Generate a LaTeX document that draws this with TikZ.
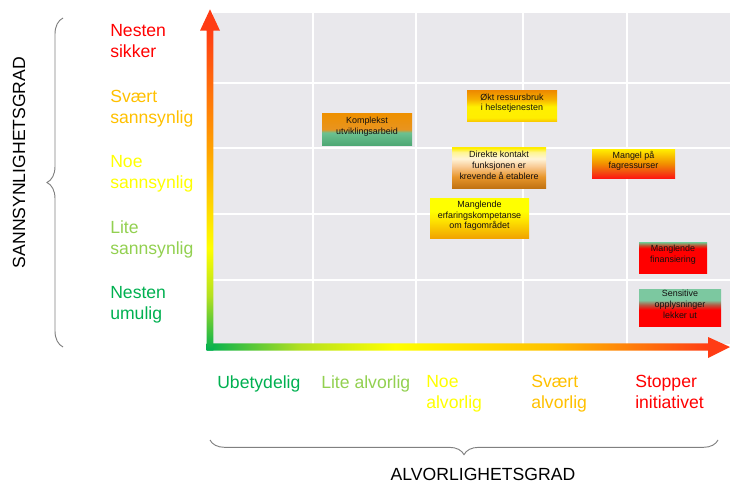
\documentclass[tikz,border=0pt]{standalone}
\usepackage{fontspec}
\setmainfont{Liberation Sans}
\usetikzlibrary{decorations.pathreplacing,fit}

% palette
\definecolor{bggrey}{HTML}{E9E8EC}
\definecolor{bracegrey}{HTML}{808080}
\definecolor{rgreen}{HTML}{00B050}
\definecolor{rlgreen}{HTML}{92D050}
\definecolor{ryellow}{HTML}{FFFF00}
\definecolor{rorange}{HTML}{FFC000}
\definecolor{rred}{HTML}{FF0000}
\definecolor{arrowred}{HTML}{FF3C14}
\definecolor{arroworange}{HTML}{FFA500}
\definecolor{arrowlime}{HTML}{B4E020}
\definecolor{boxtext}{HTML}{141010}

% axis arrow gradients (the path box spans 25bp..75bp)
\pgfdeclareverticalshading{vaxis}{100bp}{color(0bp)=(rgreen); color(25bp)=(rgreen); color(33bp)=(arrowlime); color(40bp)=(ryellow); color(54bp)=(arroworange); color(72bp)=(arrowred); color(100bp)=(arrowred)}
\pgfdeclarehorizontalshading{haxis}{100bp}{color(0bp)=(rgreen); color(25bp)=(rgreen); color(34bp)=(arrowlime); color(43bp)=(ryellow); color(58bp)=(rorange); color(73bp)=(arrowred); color(100bp)=(arrowred)}

% risk box gradients
\definecolor{kA}{HTML}{4CA673}\definecolor{kB}{HTML}{6CC190}\definecolor{kC}{HTML}{E89420}\definecolor{kD}{HTML}{EE9000}
\pgfdeclareverticalshading{shKomplekst}{100bp}{color(0bp)=(kA); color(25bp)=(kA); color(46bp)=(kB); color(51bp)=(kC); color(75bp)=(kD); color(100bp)=(kD)}
\definecolor{oA}{HTML}{F8C000}\definecolor{oB}{HTML}{FFEE00}\definecolor{oC}{HTML}{FFF000}\definecolor{oD}{HTML}{F6B000}\definecolor{oE}{HTML}{EE8C00}
\pgfdeclareverticalshading{shOkt}{100bp}{color(0bp)=(oA); color(25bp)=(oA); color(32bp)=(oB); color(50bp)=(oC); color(62bp)=(oD); color(75bp)=(oE); color(100bp)=(oE)}
\definecolor{dA}{HTML}{BE7010}\definecolor{dB}{HTML}{E8962C}\definecolor{dC}{HTML}{F8C890}\definecolor{dD}{HTML}{FFF4D8}\definecolor{dE}{HTML}{FFF590}\definecolor{dF}{HTML}{FFEE00}
\pgfdeclareverticalshading{shDirekte}{100bp}{color(0bp)=(dA); color(25bp)=(dA); color(40bp)=(dB); color(52bp)=(dC); color(62bp)=(dD); color(70bp)=(dE); color(75bp)=(dF); color(100bp)=(dF)}
\definecolor{eA}{HTML}{F0A000}\definecolor{eB}{HTML}{FFE800}\definecolor{eC}{HTML}{FFFF00}
\pgfdeclareverticalshading{shErfaring}{100bp}{color(0bp)=(eA); color(25bp)=(eA); color(50bp)=(eB); color(60bp)=(eC); color(100bp)=(eC)}
\definecolor{mA}{HTML}{FF1010}\definecolor{mB}{HTML}{F25010}\definecolor{mC}{HTML}{F29000}\definecolor{mD}{HTML}{FFE800}
\pgfdeclareverticalshading{shMangel}{100bp}{color(0bp)=(mA); color(25bp)=(mA); color(38bp)=(mB); color(52bp)=(mC); color(75bp)=(mD); color(100bp)=(mD)}
\definecolor{fA}{HTML}{FF0000}\definecolor{fB}{HTML}{C05030}\definecolor{fC}{HTML}{86A878}
\pgfdeclareverticalshading{shFinans}{100bp}{color(0bp)=(fA); color(25bp)=(fA); color(66bp)=(fA); color(71bp)=(fB); color(75bp)=(fC); color(100bp)=(fC)}
\definecolor{sA}{HTML}{FF0000}\definecolor{sB}{HTML}{B06048}\definecolor{sC}{HTML}{7CC8A0}
\pgfdeclareverticalshading{shSensitiv}{100bp}{color(0bp)=(sA); color(25bp)=(sA); color(47bp)=(sA); color(54bp)=(sB); color(60bp)=(sC); color(100bp)=(sC)}

\begin{document}
\begin{tikzpicture}[x=0.75pt,y=-0.75pt,
  axislabel/.style={inner sep=0pt, anchor=north west, align=left, font=\fontsize{13.2}{15.75}\selectfont},
  axistitle/.style={inner sep=0pt, font=\fontsize{13.2}{15.75}\selectfont, text=black},
  riskbox/.style={rectangle, inner sep=0pt, align=center, font=\fontsize{6.7}{8.1}\selectfont, text=boxtext},
  gridline/.style={draw=white, line width=1.1pt},
  bracket/.style={decorate, draw=bracegrey, line width=0.7pt}]

\useasboundingbox (0,0) rectangle (730,484);

% plotting area and grid
\fill[bggrey] (213,13.5) rectangle (730,344);
\foreach \gx in {313,416,523,627} \draw[gridline] (\gx,13.5) -- (\gx,344);
\foreach \gy in {83,148,214,280} \draw[gridline] (213,\gy) -- (730,\gy);

% axis arrows
\shade[shading=haxis] (206.7,343.3) -- (708,343.3) -- (708,337) -- (730,347) -- (708,358) -- (708,350.7) -- (206.7,350.7) -- cycle;
\shade[shading=vaxis] (206.7,350.7) -- (206.7,30.7) -- (200,30.7) -- (210,9.3) -- (220,30.7) -- (213.3,30.7) -- (213.3,350.7) -- cycle;

% likelihood scale
\node[axislabel, text=rred]    (l5) at (110,24.3)  {Nesten\\sikker};
\node[axislabel, text=rorange] (l4) at (110,90.3)  {Svært\\sannsynlig};
\node[axislabel, text=ryellow] (l3) at (110,155.3) {Noe\\sannsynlig};
\node[axislabel, text=rlgreen] (l2) at (110,220.3) {Lite\\sannsynlig};
\node[axislabel, text=rgreen]  (l1) at (110,286.3) {Nesten\\umulig};

% severity scale
\node[axislabel, text=rgreen]  (s1) at (217,375.3) {Ubetydelig};
\node[axislabel, text=rlgreen] (s2) at (321,375.3) {Lite alvorlig};
\node[axislabel, text=ryellow] (s3) at (426,375.3) {Noe\\alvorlig};
\node[axislabel, text=rorange] (s4) at (531,375.3) {Svært\\alvorlig};
\node[axislabel, text=rred]    (s5) at (635,375.3) {Stopper\\initiativet};

% braces and axis titles
\draw[bracket, decoration={brace, amplitude=12pt}] (63,347) -- (63,18);
\node[axistitle, rotate=90] (ytitle) at (19,162.5) {SANNSYNLIGHETSGRAD};
\draw[bracket, decoration={brace, amplitude=11pt}] (718,440) -- (210,440);
\node[axistitle] (xtitle) at (483,474.5) {ALVORLIGHETSGRAD};

% risks
\node[riskbox, shading=shKomplekst, fit={(322,114)(412,146)}] (komplekst) {Komplekst\\utviklingsarbeid};
\node[riskbox, shading=shOkt, fit={(467,91)(557,122)}] (okt) {Økt ressursbruk\\i helsetjenesten};
\node[riskbox, shading=shDirekte, fit={(452,148)(546,189)}] (direkte) {Direkte kontakt\\funksjonen er\\krevende å etablere};
\node[riskbox, shading=shErfaring, fit={(430,199)(529,239)}] (erfaring) {Manglende\\erfaringskompetanse\\om fagområdet};
\node[riskbox, shading=shMangel, fit={(592,150)(675,179)}] (mangel) {Mangel på\\fagressurser};
\node[riskbox, shading=shFinans, fit={(639,243)(707,273)}] (finans) {Manglende\\finansiering};
\node[riskbox, shading=shSensitiv, fit={(639,289)(721,326)}] (sensitiv) {Sensitive\\opplysninger\\lekker ut};
\end{tikzpicture}
\end{document}
